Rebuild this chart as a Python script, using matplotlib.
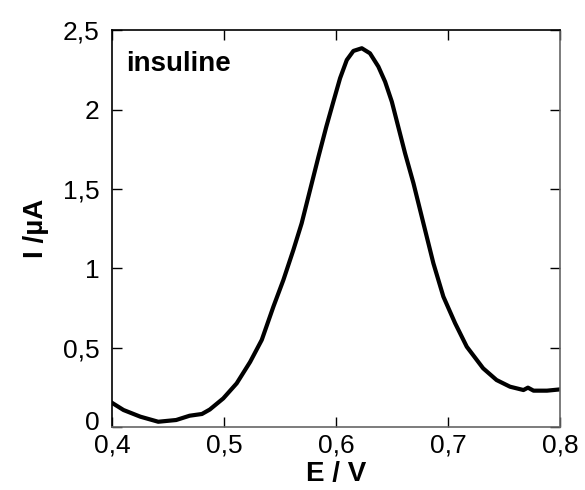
import matplotlib
matplotlib.use("Agg")
import matplotlib.pyplot as plt
import matplotlib.transforms as mtransforms

plt.rcParams['font.family'] = ['Liberation Sans', 'DejaVu Sans']

# courbe (E en V, I en uA)
E = [0.398, 0.41, 0.425, 0.441, 0.457, 0.469, 0.48, 0.487, 0.499, 0.511,
     0.523, 0.5334, 0.5438, 0.5527, 0.5616, 0.569, 0.5765, 0.584, 0.591, 0.5973,
     0.6033, 0.6093, 0.6152, 0.6227, 0.63, 0.6375, 0.6435, 0.6495, 0.6613, 0.6688,
     0.6777, 0.6866, 0.6955, 0.706, 0.7164, 0.731, 0.743, 0.755, 0.767, 0.771,
     0.776, 0.788, 0.801]
I = [0.16, 0.107, 0.065, 0.033, 0.044, 0.071, 0.082, 0.11, 0.18, 0.275,
     0.41, 0.549, 0.759, 0.927, 1.116, 1.284, 1.494, 1.704, 1.893, 2.051,
     2.199, 2.314, 2.371, 2.388, 2.356, 2.272, 2.177, 2.051, 1.726, 1.537,
     1.284, 1.032, 0.822, 0.654, 0.506, 0.37, 0.296, 0.254, 0.233, 0.248,
     0.229, 0.229, 0.238]

xticks = [0.4, 0.5, 0.6, 0.7, 0.8]
xlabels = ['0,4', '0,5', '0,6', '0,7', '0,8']
yticks = [0, 0.5, 1, 1.5, 2, 2.5]
ylabels = ['0', '0,5', '1', '1,5', '2', '2,5']

fig = plt.figure(figsize=(5.85, 4.9), dpi=100)
ax = fig.add_axes([0.192, 0.1286, 0.766, 0.8092])

ax.plot(E, I, color='black', lw=3, solid_joinstyle='round', solid_capstyle='butt')

ax.set_xlim(0.4, 0.8)
ax.set_ylim(0, 2.5)
ax.set_xticks(xticks)
ax.set_xticklabels(xlabels)
ax.set_yticks(yticks)
ax.set_yticklabels(ylabels)
ax.tick_params(direction='in', length=7, width=1, top=True, right=True, labelsize=19)
ax.tick_params(axis='x', pad=5)
ax.tick_params(axis='y', pad=9)

# le "0" de l'axe y est un peu remonte dans l'original
lab0 = ax.get_yticklabels()[0]
lab0.set_transform(lab0.get_transform() +
                   mtransforms.ScaledTranslation(0, 5 / 72, fig.dpi_scale_trans))

ax.spines['left'].set_color('black')
ax.spines['top'].set_color('black')
ax.spines['right'].set_color('#666666')
ax.spines['bottom'].set_color('#666666')
for s in ax.spines.values():
    s.set_linewidth(1.2)

ax.set_xlabel('E / V', fontsize=20, fontweight='bold', labelpad=2)
ax.set_ylabel('I /µA', fontsize=20, fontweight='bold', labelpad=10)
ax.text(0.03, 0.915, 'insuline', transform=ax.transAxes, fontsize=20,
        fontweight='bold', va='center', ha='left')

fig.savefig('out.png', dpi=100)
